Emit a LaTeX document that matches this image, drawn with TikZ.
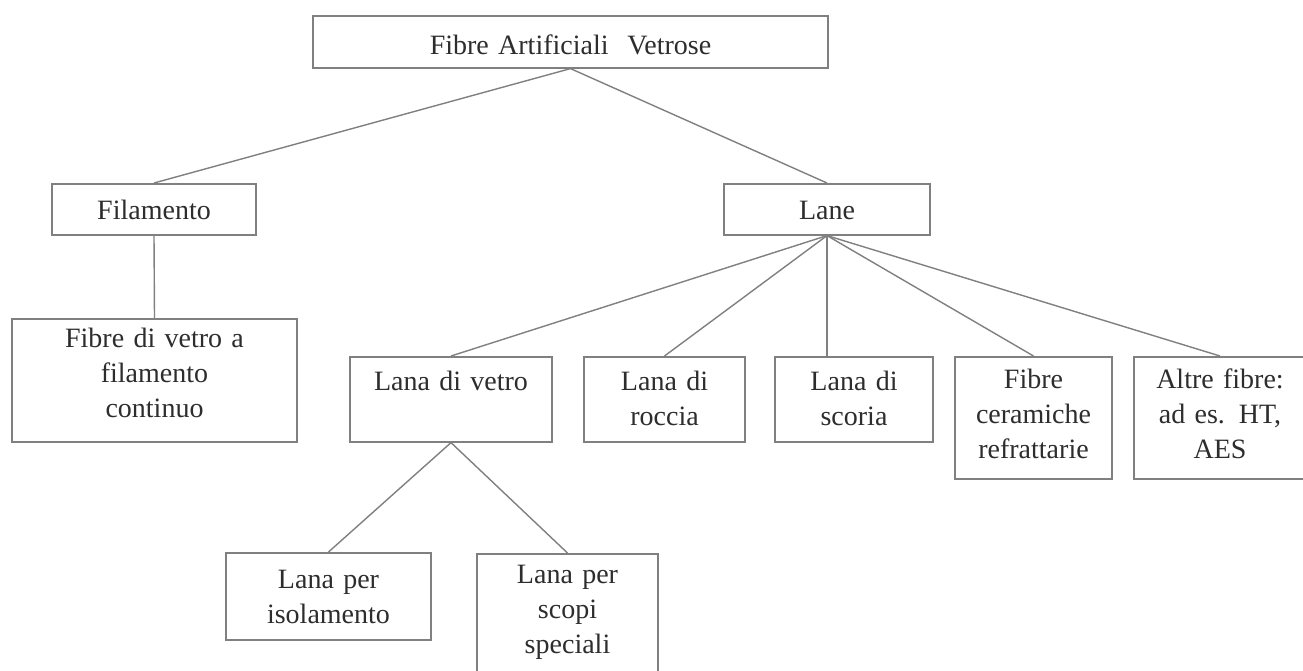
\documentclass[tikz,border=0pt]{standalone}
\usepackage{fontspec}
\setmainfont{Liberation Serif}
\usepackage{tikz}
\usetikzlibrary{positioning, calc}

\definecolor{boxgray}{RGB}{128,128,128}
\definecolor{inkgray}{RGB}{45,45,45}

\tikzset{
  box/.style={draw=boxgray, line width=1.6pt, anchor=north, align=center,
    inner xsep=0pt, inner ysep=0pt, text=inkgray,
    font=\fontsize{28}{35}\selectfont},
  link/.style={draw=boxgray, line width=1.4pt}
}

\begin{document}
\begin{tikzpicture}[x=1pt, y=-1pt]
                  \clip (0,0) rectangle (1303,670);
                  \fill[white] (0,0) rectangle (1303,670);
                  % Nodes
                  \node[box, text width=515pt, text height=39pt, text depth=13pt] (fav) at (570.5,15) {Fibre Artificiali\ \ Vetrose};
                  \node[box, text width=204pt, text height=36pt, text depth=15pt] (filamento) at (154,183) {Filamento};
                  \node[box, text width=206pt, text height=36pt, text depth=15pt] (lane) at (827,183) {Lane};
                  \node[box, text width=285pt, text height=29pt, text depth=94pt] (continuo) at (154.5,318) {Fibre di vetro a\\filamento\\continuo};
                  \node[box, text width=202pt, text height=34pt, text depth=51pt] (vetro) at (451,356) {Lana di vetro};
                  \node[box, text width=161pt, text height=34pt, text depth=51pt] (roccia) at (664.5,356) {Lana di\\roccia};
                  \node[box, text width=158pt, text height=34pt, text depth=51pt] (scoria) at (854,356) {Lana di\\scoria};
                  \node[box, text width=157pt, text height=32pt, text depth=90pt] (ceramiche) at (1033.5,356) {Fibre\\ceramiche\\refrattarie};
                  \node[box, text width=172pt, text height=32pt, text depth=90pt] (altre) at (1220,356) {Altre fibre:\\ad es. HT,\\AES};
                  \node[box, text width=205pt, text height=36pt, text depth=51pt] (isolamento) at (328.5,552) {Lana per\\isolamento};
                  \node[box, text width=181pt, text height=30pt, text depth=100pt] (speciali) at (567.5,553) {Lana per\\scopi\\speciali};

                  % Lines
                  \foreach \c in {filamento, lane}
                  \draw[link] (fav.south) -- (\c.north);
                  \draw[link] (filamento.south) -- (continuo.north);
                  \foreach \c in {vetro, roccia, ceramiche, altre}
                  \draw[link] (lane.south) -- (\c.north);
                  \draw[link] (lane.south) -- (lane.south |- scoria.north);
                  \foreach \c in {isolamento, speciali}
                  \draw[link] (vetro.south) -- (\c.north);
              \end{tikzpicture}
\end{document}
